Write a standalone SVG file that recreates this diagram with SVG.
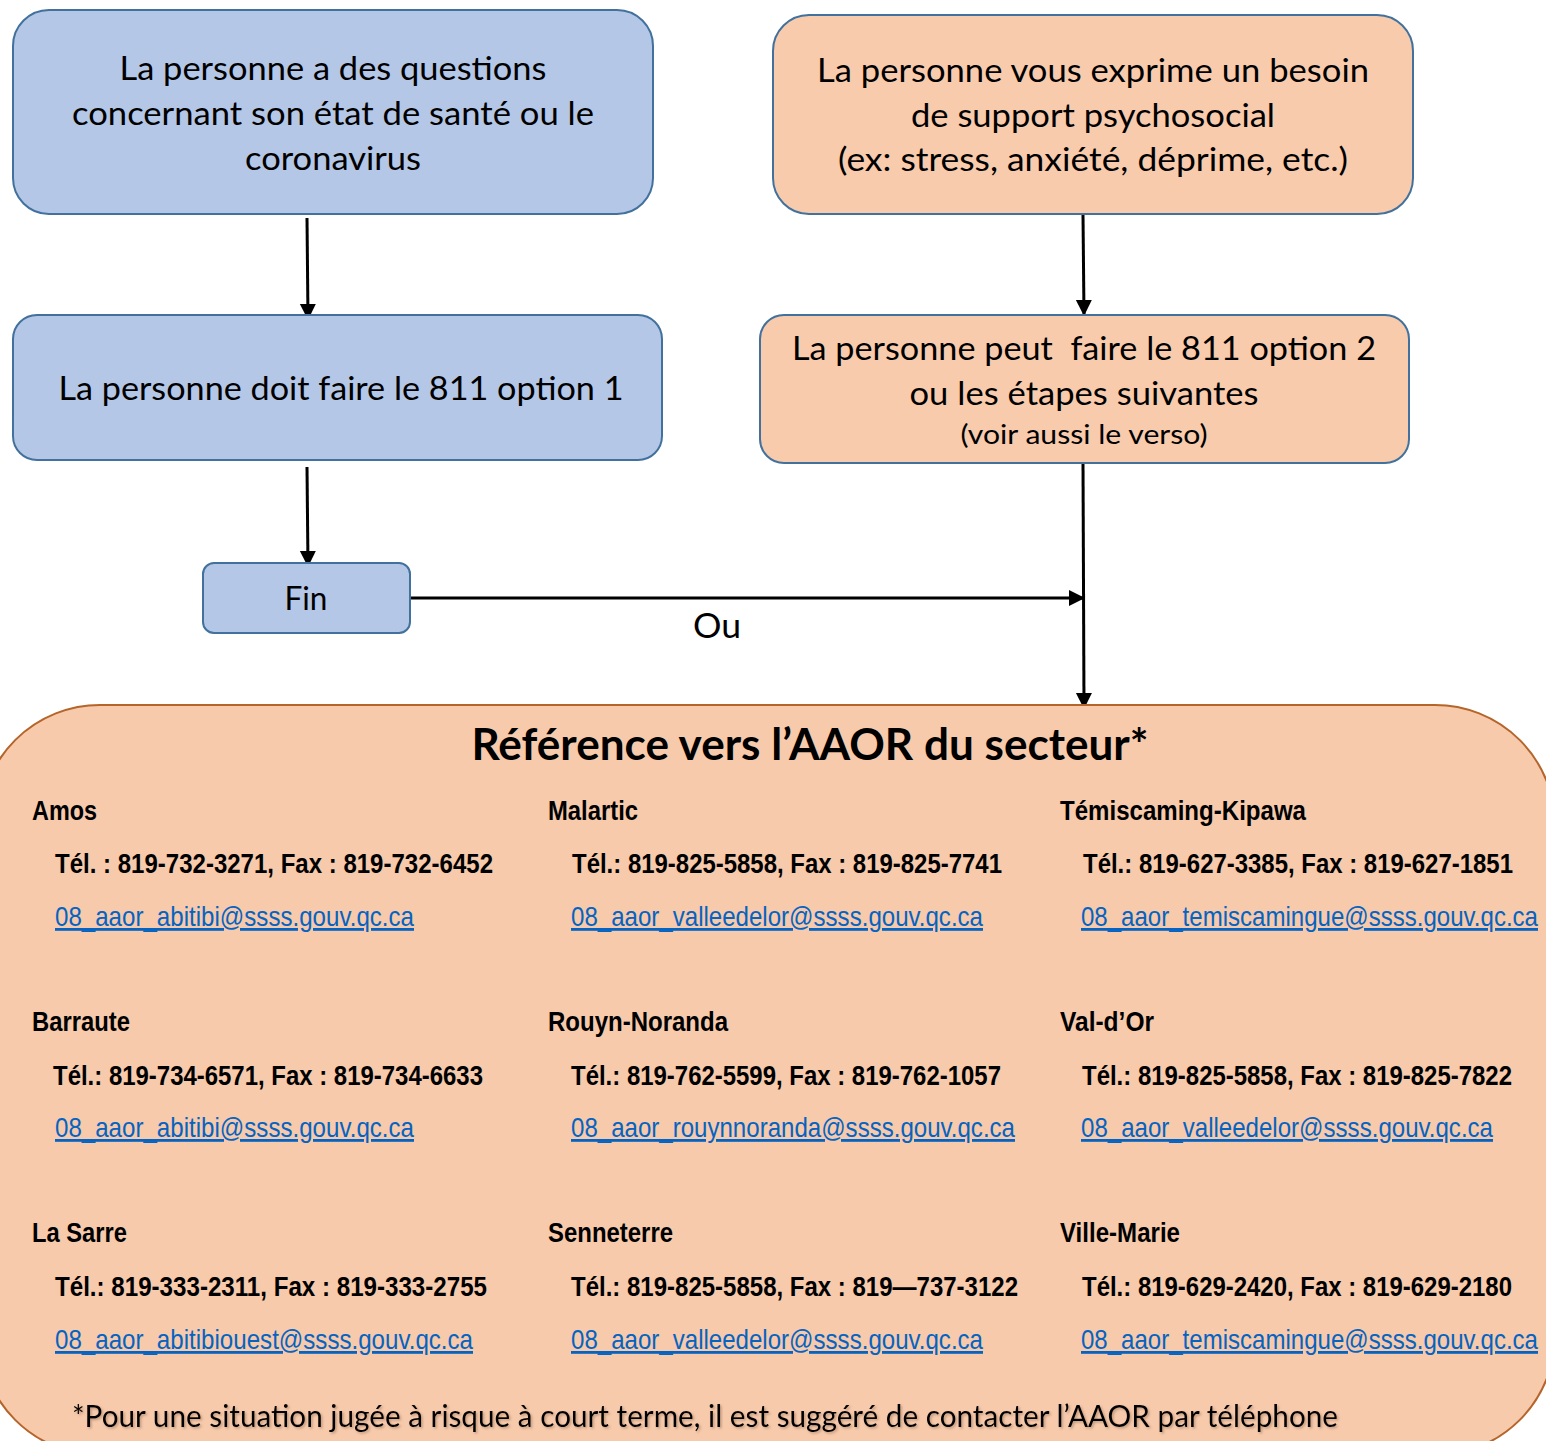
<svg xmlns="http://www.w3.org/2000/svg" width="1546" height="1441" viewBox="0 0 1546 1441">
<style>
.blue{fill:#B4C7E7;stroke:#41719C;stroke-width:2}
.orange{fill:#F8CBAD;stroke:#41719C;stroke-width:2}
.big{fill:#F7CAAC;stroke:#B5652A;stroke-width:2}
.t{font-family:Lato,"Open Sans","Noto Sans",sans-serif;font-size:33px;fill:#000;text-anchor:middle}
.small{font-size:27px}
.title{font-family:Lato,"Open Sans",sans-serif;font-size:43px;font-weight:bold;fill:#000;text-anchor:middle}
.n{font-family:"Liberation Sans",Arial,sans-serif;font-size:28px;font-weight:bold;fill:#000}
.m{font-family:"Liberation Sans",Arial,sans-serif;font-size:28px;fill:#0563C1;text-decoration:underline}
.foot{font-family:Lato,"Open Sans",sans-serif;font-size:30px;fill:#000}
.c{stroke:#000;stroke-width:3;fill:none;marker-end:url(#ah)}
</style>
<defs>
<marker id="ah" markerWidth="18" markerHeight="18" refX="15" refY="8" orient="auto" markerUnits="userSpaceOnUse">
<path d="M0,0 L16,8 L0,16 Z" fill="#000"/>
</marker>
<filter id="sh" x="-5%" y="-50%" width="110%" height="200%">
<feDropShadow dx="1.5" dy="1.5" stdDeviation="1" flood-color="#7a5a40" flood-opacity="0.45"/>
</filter>
</defs>
<g id="connectors">
<line class="c" x1="307" y1="218" x2="308" y2="319"/>
<line class="c" x1="1083" y1="215" x2="1084" y2="315"/>
<line class="c" x1="307" y1="467" x2="308" y2="566"/>
<line class="c" x1="1083" y1="463" x2="1084" y2="708"/>
<line class="c" x1="410" y1="598" x2="1084" y2="598"/>
<text class="t" x="717" y="638" style="font-size:35px" textLength="48" lengthAdjust="spacingAndGlyphs">Ou</text>
</g>
<g id="node-questions">
<rect class="blue" x="13" y="10" width="640" height="204" rx="36"/>
<text class="t" x="333" y="80" textLength="427" lengthAdjust="spacingAndGlyphs">La personne a des questions</text>
<text class="t" x="333" y="125" textLength="522" lengthAdjust="spacingAndGlyphs">concernant son état de santé ou le</text>
<text class="t" x="333" y="170" textLength="176" lengthAdjust="spacingAndGlyphs">coronavirus</text>
</g>
<g id="node-besoin">
<rect class="orange" x="773" y="15" width="640" height="199" rx="36"/>
<text class="t" x="1093" y="82" textLength="552" lengthAdjust="spacingAndGlyphs">La personne vous exprime un besoin</text>
<text class="t" x="1093" y="127" textLength="364" lengthAdjust="spacingAndGlyphs">de support psychosocial</text>
<text class="t" x="1093" y="171" textLength="510" lengthAdjust="spacingAndGlyphs">(ex: stress, anxiété, déprime, etc.)</text>
</g>
<g id="node-option1">
<rect class="blue" x="13" y="315" width="649" height="145" rx="24"/>
<text class="t" x="341" y="400" textLength="565" lengthAdjust="spacingAndGlyphs">La personne doit faire le 811 option 1</text>
</g>
<g id="node-option2">
<rect class="orange" x="760" y="315" width="649" height="148" rx="24"/>
<text class="t" x="1084" y="360" xml:space="preserve" textLength="584" lengthAdjust="spacingAndGlyphs">La personne peut  faire le 811 option 2</text>
<text class="t" x="1084" y="405" textLength="349" lengthAdjust="spacingAndGlyphs">ou les étapes suivantes</text>
<text class="t small" x="1084" y="444" textLength="247" lengthAdjust="spacingAndGlyphs">(voir aussi le verso)</text>
</g>
<g id="node-fin">
<rect class="blue" x="203" y="563" width="207" height="70" rx="11"/>
<text class="t" x="306" y="610" textLength="43" lengthAdjust="spacingAndGlyphs">Fin</text>
</g>
<g id="node-aaor">
<rect class="big" x="-20" y="705" width="1575" height="750" rx="120"/>
<text class="title" x="810" y="760" textLength="677" lengthAdjust="spacingAndGlyphs">Référence vers l’AAOR du secteur*</text>
<text class="n" x="32" y="820" textLength="65" lengthAdjust="spacingAndGlyphs">Amos</text>
<text class="n" x="55" y="873" textLength="438" lengthAdjust="spacingAndGlyphs">Tél. : 819-732-3271, Fax : 819-732-6452</text>
<text class="m" x="55" y="926" textLength="359" lengthAdjust="spacingAndGlyphs">08_aaor_abitibi@ssss.gouv.qc.ca</text>
<text class="n" x="548" y="820" textLength="90" lengthAdjust="spacingAndGlyphs">Malartic</text>
<text class="n" x="572" y="873" textLength="430" lengthAdjust="spacingAndGlyphs">Tél.: 819-825-5858, Fax : 819-825-7741</text>
<text class="m" x="571" y="926" textLength="412" lengthAdjust="spacingAndGlyphs">08_aaor_valleedelor@ssss.gouv.qc.ca</text>
<text class="n" x="1060" y="820" textLength="246" lengthAdjust="spacingAndGlyphs">Témiscaming-Kipawa</text>
<text class="n" x="1083" y="873" textLength="430" lengthAdjust="spacingAndGlyphs">Tél.: 819-627-3385, Fax : 819-627-1851</text>
<text class="m" x="1081" y="926" textLength="457" lengthAdjust="spacingAndGlyphs">08_aaor_temiscamingue@ssss.gouv.qc.ca</text>
<text class="n" x="32" y="1031" textLength="98" lengthAdjust="spacingAndGlyphs">Barraute</text>
<text class="n" x="53" y="1085" textLength="430" lengthAdjust="spacingAndGlyphs">Tél.: 819-734-6571, Fax : 819-734-6633</text>
<text class="m" x="55" y="1137" textLength="359" lengthAdjust="spacingAndGlyphs">08_aaor_abitibi@ssss.gouv.qc.ca</text>
<text class="n" x="548" y="1031" textLength="180" lengthAdjust="spacingAndGlyphs">Rouyn-Noranda</text>
<text class="n" x="571" y="1085" textLength="430" lengthAdjust="spacingAndGlyphs">Tél.: 819-762-5599, Fax : 819-762-1057</text>
<text class="m" x="571" y="1137" textLength="444" lengthAdjust="spacingAndGlyphs">08_aaor_rouynnoranda@ssss.gouv.qc.ca</text>
<text class="n" x="1060" y="1031" textLength="94" lengthAdjust="spacingAndGlyphs">Val-d’Or</text>
<text class="n" x="1082" y="1085" textLength="430" lengthAdjust="spacingAndGlyphs">Tél.: 819-825-5858, Fax : 819-825-7822</text>
<text class="m" x="1081" y="1137" textLength="412" lengthAdjust="spacingAndGlyphs">08_aaor_valleedelor@ssss.gouv.qc.ca</text>
<text class="n" x="32" y="1242" textLength="95" lengthAdjust="spacingAndGlyphs">La Sarre</text>
<text class="n" x="55" y="1296" textLength="432" lengthAdjust="spacingAndGlyphs">Tél.: 819-333-2311, Fax : 819-333-2755</text>
<text class="m" x="55" y="1349" textLength="418" lengthAdjust="spacingAndGlyphs">08_aaor_abitibiouest@ssss.gouv.qc.ca</text>
<text class="n" x="548" y="1242" textLength="125" lengthAdjust="spacingAndGlyphs">Senneterre</text>
<text class="n" x="571" y="1296" textLength="447" lengthAdjust="spacingAndGlyphs">Tél.: 819-825-5858, Fax : 819—737-3122</text>
<text class="m" x="571" y="1349" textLength="412" lengthAdjust="spacingAndGlyphs">08_aaor_valleedelor@ssss.gouv.qc.ca</text>
<text class="n" x="1060" y="1242" textLength="120" lengthAdjust="spacingAndGlyphs">Ville-Marie</text>
<text class="n" x="1082" y="1296" textLength="430" lengthAdjust="spacingAndGlyphs">Tél.: 819-629-2420, Fax : 819-629-2180</text>
<text class="m" x="1081" y="1349" textLength="457" lengthAdjust="spacingAndGlyphs">08_aaor_temiscamingue@ssss.gouv.qc.ca</text>
<text class="foot" x="72" y="1427" filter="url(#sh)" textLength="1266" lengthAdjust="spacingAndGlyphs">*Pour une situation jugée à risque à court terme, il est suggéré de contacter l’AAOR par téléphone</text>
</g>
</svg>
